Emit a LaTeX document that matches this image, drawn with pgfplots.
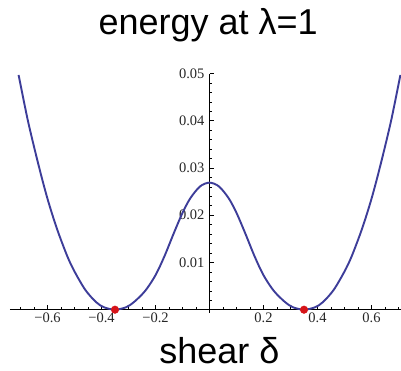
\documentclass[border=0pt]{standalone}
\usepackage{pgfplots}
\pgfplotsset{compat=1.18}
\usepackage{fontspec}
\setmainfont{Liberation Sans}
\newfontfamily\tickfont{Liberation Serif}

\definecolor{curveblue}{rgb}{0.24,0.24,0.60}
\definecolor{dotred}{rgb}{0.84,0.08,0.10}

% energy E(delta) along the shear coordinate
\pgfplotstableread{
d       E
-0.707  0.0497
-0.674  0.0404
-0.646  0.0336
-0.620  0.0277
-0.599  0.0233
-0.578  0.0194
-0.556  0.0157
-0.525  0.0111
-0.500  0.0081
-0.460  0.0042
-0.420  0.0016
-0.390  0.0005
-0.350  0.0000
-0.310  0.0005
-0.280  0.0016
-0.238  0.0040
-0.200  0.0073
-0.167  0.0113
-0.130  0.0165
-0.100  0.0205
-0.071  0.0236
-0.035  0.0261
 0.000  0.0269
 0.035  0.0261
 0.071  0.0236
 0.100  0.0205
 0.130  0.0165
 0.167  0.0113
 0.200  0.0073
 0.238  0.0040
 0.280  0.0016
 0.310  0.0005
 0.350  0.0000
 0.390  0.0005
 0.420  0.0016
 0.460  0.0042
 0.500  0.0081
 0.525  0.0111
 0.556  0.0157
 0.578  0.0194
 0.599  0.0233
 0.620  0.0277
 0.646  0.0336
 0.674  0.0404
 0.707  0.0497
}\energy

% minima of the double well
\pgfplotstableread{
d      E
-0.35  0
 0.35  0
}\minima

\begin{document}
\begin{tikzpicture}
\begin{axis}[
  anchor=origin, at={(0,0)},
  scale only axis,
  width=391bp, height=239bp,
  xmin=-0.739, xmax=0.709,
  ymin=-0.0006, ymax=0.05,
  axis lines=middle,
  axis line style={-, line width=0.8bp, black},
  clip=false,
  scaled x ticks=false, scaled y ticks=false,
  tick align=inside,
  major tick length=4.5bp,
  minor tick length=2.5bp,
  every tick/.style={black, line width=0.6bp},
  xtick={-0.6,-0.4,-0.2,0.2,0.4,0.6},
  xticklabels={−0.6,−0.4,−0.2,0.2,0.4,0.6},
  minor xtick={-0.7,-0.65,-0.55,-0.5,-0.45,-0.35,-0.3,-0.25,-0.15,-0.1,-0.05,
               0.05,0.1,0.15,0.25,0.3,0.35,0.45,0.5,0.55,0.65,0.7},
  ytick={0.01,0.02,0.03,0.04,0.05},
  yticklabels={0.01,0.02,0.03,0.04,0.05},
  minor ytick={0.002,0.004,0.006,0.008,0.012,0.014,0.016,0.018,
               0.022,0.024,0.026,0.028,0.032,0.034,0.036,0.038,
               0.042,0.044,0.046,0.048},
  ticklabel style={font=\tickfont\fontsize{14.5bp}{16bp}\selectfont, text=black!85},
  xticklabel style={yshift=0.5bp},
  yticklabel style={xshift=-1.5bp},
  title={energy at λ=1},
  title style={at={(axis description cs:0.507,1)}, anchor=base, yshift=33.5bp,
                font=\fontsize{36bp}{40bp}\selectfont, inner sep=0pt},
  xlabel={shear δ},
  xlabel style={at={(axis cs:0.037,0)}, anchor=base, yshift=-53.3bp,
                font=\fontsize{36bp}{40bp}\selectfont, inner sep=0pt},
]
\addplot[curveblue, line width=1.9bp, smooth, tension=0.5] table[x=d, y=E] {\energy};
\addplot[only marks, mark=*, mark size=3.8bp, dotred, mark options={draw=dotred, fill=dotred}]
  table[x=d, y=E] {\minima};
\end{axis}
\pgfresetboundingbox
\path[use as bounding box] (-209.5bp,309.7bp) rectangle (191.5bp,-61.3bp);
\end{tikzpicture}
\end{document}
